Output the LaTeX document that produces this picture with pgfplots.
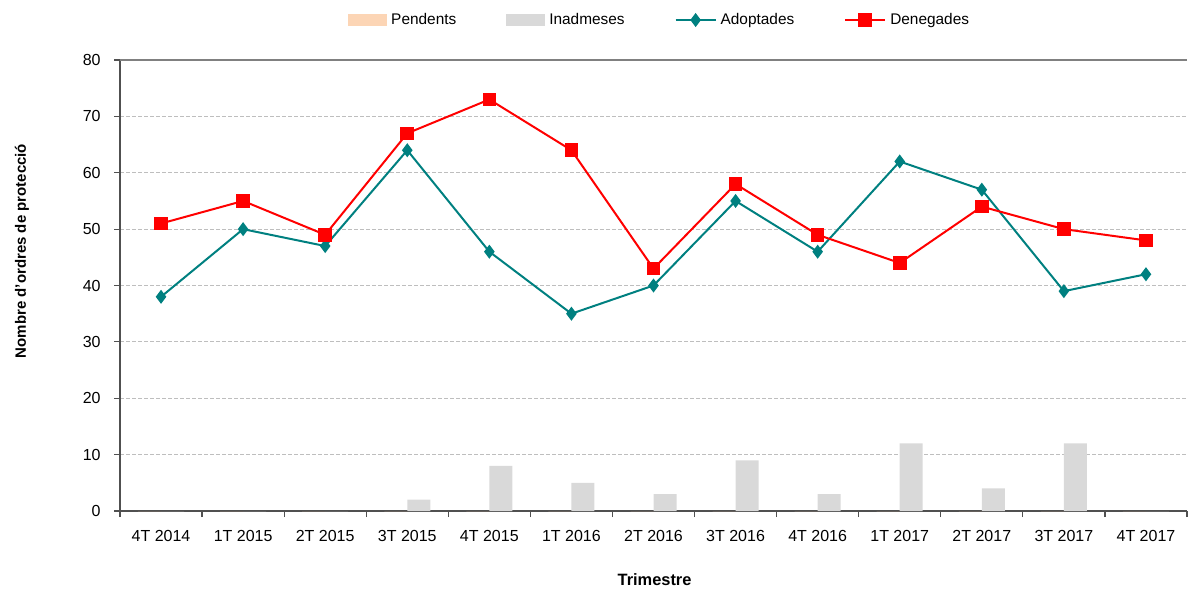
\documentclass[border=0pt]{standalone}
\usepackage{fontspec}
\setmainfont{Liberation Sans}
\usepackage{pgfplots}
\pgfplotsset{compat=1.18}
\definecolor{tealc}{RGB}{0,128,128}
\definecolor{peach}{RGB}{252,213,181}
\definecolor{lgray}{RGB}{217,217,217}
\definecolor{axgray}{RGB}{80,80,80}
\definecolor{gridc}{RGB}{190,190,190}
\pgfplotsset{
  mylineleg/.style={legend image code/.code={\draw[##1, mark=none] (0pt,0pt) -- (20pt,0pt); \draw[##1, only marks] plot coordinates {(10pt,0pt)};}},
  mybarleg/.style={legend image code/.code={\fill[#1] (0pt,-3pt) rectangle (19.5pt,3pt);}},
}
\begin{document}
\begin{tikzpicture}
\path[use as bounding box] (0,0) rectangle (594pt,295.5pt);
\begin{axis}[
  at={(60pt,40pt)}, anchor=south west,
  scale only axis, width=533.5pt, height=225.5pt,
  xmin=-0.5, xmax=12.5, ymin=0, ymax=80,
  axis x line*=bottom, axis y line*=left,
  axis line style={axgray, line width=0.8pt, -},
  tick align=outside,
  tick style={axgray, line width=0.6pt},
  xtick={-0.5,0.5,...,12.5},
  xticklabels={},
  major tick length=3pt,
  extra x ticks={0,1,...,12},
  extra x tick labels={4T 2014,1T 2015,2T 2015,3T 2015,4T 2015,1T 2016,2T 2016,3T 2016,4T 2016,1T 2017,2T 2017,3T 2017,4T 2017},
  extra x tick style={major tick length=0pt, xticklabel style={anchor=center, yshift=-12.5pt, inner sep=0pt}},
  ytick={0,10,...,80},
  ymajorgrids,
  major grid style={gridc, line width=0.4pt, dash pattern=on 2pt off 1pt},
  extra y ticks={80}, extra y tick labels={},
  extra y tick style={major tick length=0pt, major grid style={gray, line width=0.6pt, solid}},
  yticklabel style={anchor=east, inner sep=0pt, xshift=-6.5pt},
  /pgf/number format/assume math mode=true,
  tick label style={font=\fontsize{8}{10}\selectfont},
  xlabel={\textbf{Trimestre}},
  ylabel={\textbf{Nombre d'ordres de protecció}},
  every axis x label/.style={at={(axis description cs:0.501,-0.153)}, anchor=center, font=\fontsize{8.2}{10}\selectfont},
  every axis y label/.style={at={(axis description cs:-0.0918,0.5765)}, rotate=90, anchor=center, font=\fontsize{7.5}{9}\selectfont},
  legend columns=4,
  legend style={at={(axis description cs:0.5067,1.0887)}, anchor=center, draw=none,
    font=\fontsize{7.7}{9}\selectfont,
    /tikz/every even column/.append style={column sep=23pt},
    inner sep=0pt},
  legend cell align=left,
]
\addplot[ybar, bar width=11.5pt, bar shift=-5.75pt, fill=peach, draw=none, mybarleg=peach]
  coordinates {(0,0)(1,0)(2,0)(3,0)(4,0)(5,0)(6,0)(7,0)(8,0)(9,0)(10,0)(11,0)(12,0)};
\addlegendentry{Pendents}
\addplot[ybar, bar width=11.5pt, bar shift=5.75pt, fill=lgray, draw=none, mybarleg=lgray]
  coordinates {(0,0)(1,0)(2,0)(3,2)(4,8)(5,5)(6,3)(7,9)(8,3)(9,12)(10,4)(11,12)(12,0)};
\addlegendentry{Inadmeses}
\addplot[tealc, line width=1pt, mark=diamond*, mark size=2.7pt, mark options={solid, fill=tealc, draw=tealc}, mylineleg]
  coordinates {(0,38)(1,50)(2,47)(3,64)(4,46)(5,35)(6,40)(7,55)(8,46)(9,62)(10,57)(11,39)(12,42)};
\addlegendentry{Adoptades}
\addplot[red, line width=1pt, mark=square*, mark size=2.9pt, mark options={solid, fill=red, draw=red}, mylineleg]
  coordinates {(0,51)(1,55)(2,49)(3,67)(4,73)(5,64)(6,43)(7,58)(8,49)(9,44)(10,54)(11,50)(12,48)};
\addlegendentry{Denegades}
\end{axis}
\end{tikzpicture}
\end{document}
